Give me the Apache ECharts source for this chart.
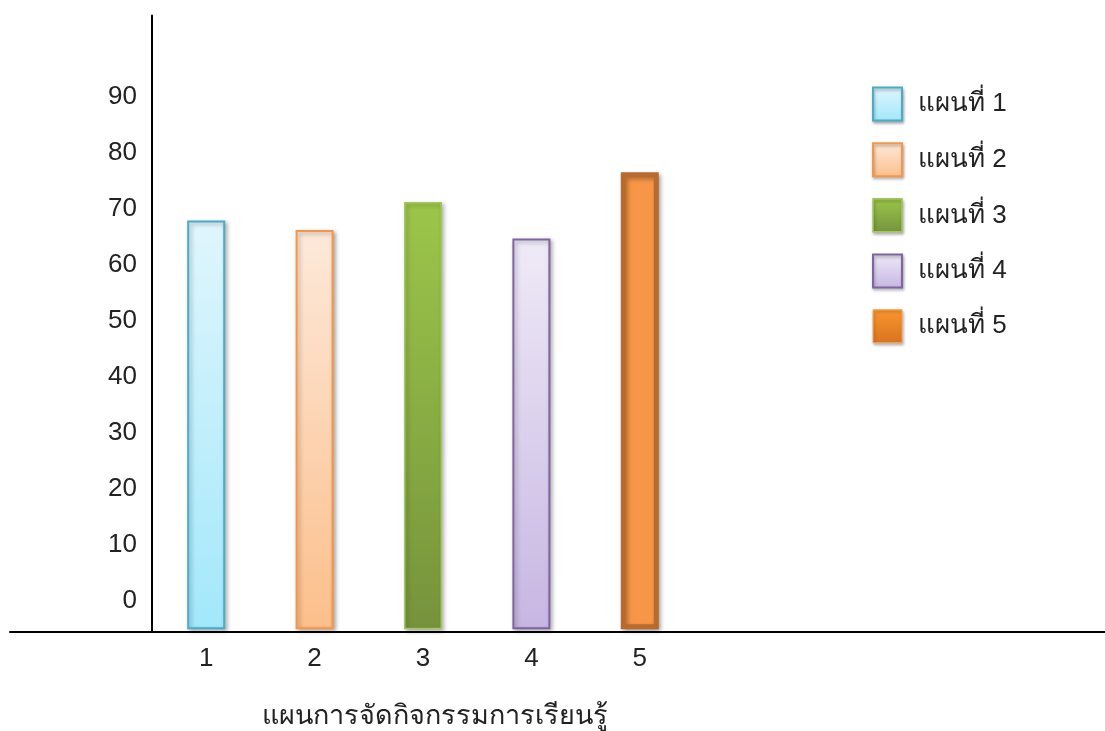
<!DOCTYPE html>
<html>
<head>
<meta charset="utf-8">
<style>
html,body{margin:0;padding:0;background:#fff;}
#chart{width:1105px;height:731px;}
</style>
<script src="https://cdn.jsdelivr.net/npm/echarts@6/dist/echarts.min.js"></script>
</head>
<body>
<div id="chart"></div>
<script>
const categories = ['1', '2', '3', '4', '5'];
const seriesNames = ['แผนที่ 1', 'แผนที่ 2', 'แผนที่ 3', 'แผนที่ 4', 'แผนที่ 5'];
const values = [68.0, 66.3, 71.3, 64.8, 76.6];
const yTickLabels = [0, 10, 20, 30, 40, 50, 60, 70, 80, 90];
const xAxisTitle = 'แผนการจัดกิจกรรมการเรียนรู้';

const FONT = "'Liberation Sans', 'Noto Sans', sans-serif";
const grad = (a, b) => new echarts.graphic.LinearGradient(0, 0, 0, 1, [
  { offset: 0, color: a }, { offset: 1, color: b }
]);
const styles = [
  { color: grad('#e0f6fd', '#a2e8fb'), borderColor: '#4bacc6', borderWidth: 2 },
  { color: grad('#fde9da', '#fcbf8b'), borderColor: '#f79646', borderWidth: 2 },
  { color: grad('#9cc64a', '#76933c'), borderColor: '#a3c65e', borderWidth: 1.5 },
  { color: grad('#efeaf7', '#c7b6e2'), borderColor: '#8064a2', borderWidth: 2 },
  { color: '#f79646', borderColor: '#b96b2f', borderWidth: 5 }
];
const legendStyles = [
  styles[0], styles[1], styles[2], styles[3],
  { color: grad('#fb962e', '#d9731f'), borderColor: '#f5a55c', borderWidth: 1 }
];

const chart = echarts.init(document.getElementById('chart'));
chart.setOption({
  animation: false,
  backgroundColor: '#ffffff',
  textStyle: { fontFamily: FONT },
  grid: [
    { left: 152, top: 15.5, width: 542, bottom: 99.5, containLabel: false, outerBoundsMode: 'none' },
    { left: 10, right: 0, top: 15.5, bottom: 99.5, containLabel: false, outerBoundsMode: 'none' }
  ],
  legend: {
    orient: 'vertical',
    left: 872,
    top: 86.5,
    padding: 0,
    itemWidth: 29,
    itemHeight: 33,
    itemGap: 20.8,
    icon: 'rect',
    textStyle: { fontSize: 26, lineHeight: 30, color: '#222', fontFamily: FONT, padding: [0, 0, 0, 11] },
    data: seriesNames.map((n, i) => ({ name: n, itemStyle: Object.assign({ shadowBlur: 3, shadowOffsetX: 1, shadowOffsetY: 2, shadowColor: 'rgba(0,0,0,0.3)' }, legendStyles[i]) }))
  },
  xAxis: [
    {
      type: 'category',
      gridIndex: 0,
      data: categories,
      axisLine: { show: true, onZero: false, lineStyle: { color: '#000', width: 2 } },
      axisTick: { show: false },
      axisLabel: { fontSize: 26, color: '#222', margin: 14, fontFamily: FONT },
      name: xAxisTitle,
      nameLocation: 'middle',
      nameGap: 72,
      nameTextStyle: { fontSize: 27, color: '#222', fontFamily: FONT, padding: [0, 0, 0, 24] }
    },
    {
      type: 'value',
      gridIndex: 1,
      min: 0, max: 1,
      axisLine: { show: true, onZero: false, lineStyle: { color: '#000', width: 2 } },
      axisTick: { show: false },
      axisLabel: { show: false },
      splitLine: { show: false }
    }
  ],
  yAxis: [
    {
      type: 'value',
      gridIndex: 0,
      min: -5.4,
      max: 104.6,
      startValue: -5,
      axisLine: { show: true, onZero: false, lineStyle: { color: '#000', width: 2 } },
      axisTick: { show: false },
      splitLine: { show: false },
      axisLabel: { customValues: yTickLabels, fontSize: 26, color: '#222', margin: 15, fontFamily: FONT }
    },
    {
      type: 'value',
      gridIndex: 1,
      show: false,
      min: 0, max: 1
    }
  ],
  series: seriesNames.map((name, i) => ({
    name: name,
    type: 'bar',
    xAxisIndex: 0,
    yAxisIndex: 0,
    barWidth: 38,
    barGap: '-100%',
    itemStyle: Object.assign({ shadowBlur: 4, shadowOffsetX: 2, shadowOffsetY: 2, shadowColor: 'rgba(0,0,0,0.3)' }, styles[i]),
    data: categories.map((c, j) => (j === i ? values[i] : '-'))
  }))
});
</script>
</body>
</html>
